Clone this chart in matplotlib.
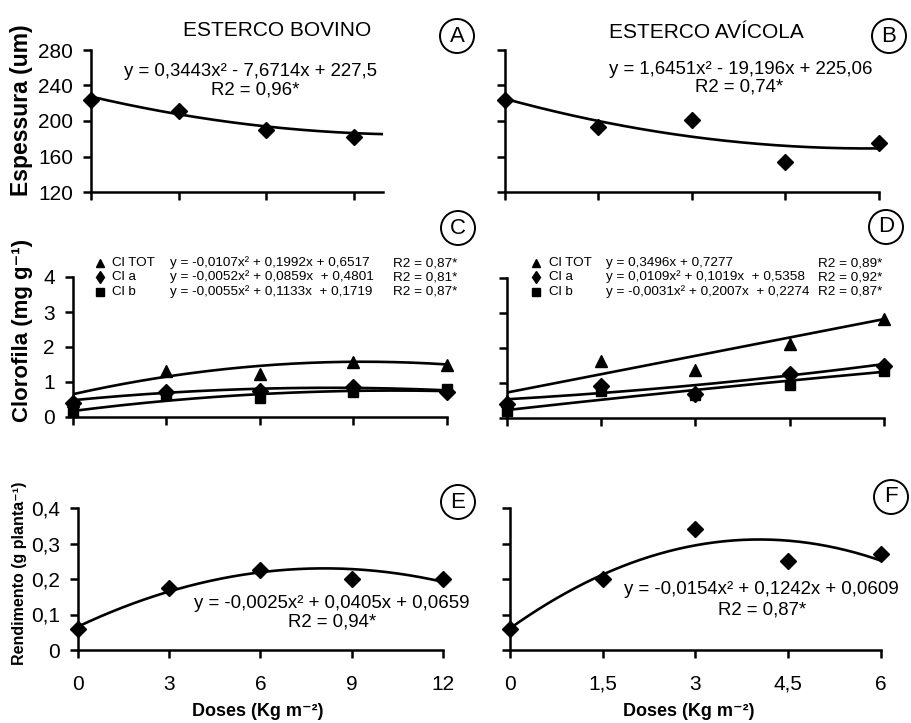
import numpy as np
import matplotlib
matplotlib.use('Agg')
import matplotlib.pyplot as plt
from matplotlib.lines import Line2D
from matplotlib.patches import Ellipse

# dose levels
doses_bov = [0, 3, 6, 9, 12]
doses_avi = [0, 1.5, 3, 4.5, 6]

# Espessura (um)
esp_bov = [224, 211, 190, 182]
esp_avi = [224, 193, 201, 154, 175]
esp_bov_coef = [0.3443, -7.6714, 227.5]
esp_avi_coef = [1.6451, -19.196, 225.06]

# Clorofila (mg g-1)
cl_tot_bov = [0.45, 1.3, 1.22, 1.57, 1.49]
cl_a_bov = [0.4, 0.7, 0.75, 0.86, 0.72]
cl_b_bov = [0.15, 0.63, 0.55, 0.7, 0.79]
cl_tot_avi = [0.5, 1.63, 1.37, 2.11, 2.83]
cl_a_avi = [0.4, 0.91, 0.7, 1.25, 1.48]
cl_b_avi = [0.2, 0.78, 0.66, 0.94, 1.33]
cl_bov_coef = {'tot': [-0.0107, 0.1992, 0.6517], 'a': [-0.0052, 0.0859, 0.4801], 'b': [-0.0055, 0.1133, 0.1719]}
cl_avi_coef = {'tot': [0.0, 0.3496, 0.7277], 'a': [0.0109, 0.1019, 0.5358], 'b': [-0.0031, 0.2007, 0.2274]}

# Rendimento (g planta-1)
rend_bov = [0.06, 0.175, 0.225, 0.2, 0.2]
rend_avi = [0.06, 0.2, 0.34, 0.25, 0.27]
rend_bov_coef = [-0.0025, 0.0405, 0.0659]
rend_avi_coef = [-0.0154, 0.1242, 0.0609]

W, H = 912, 723
FONT = ['Liberation Sans', 'DejaVu Sans']
plt.rcParams['font.family'] = FONT


def box(x0, x1, y0, y1):
    # pixel box -> figure fraction
    return [x0 / W, 1 - y1 / H, (x1 - x0) / W, (y1 - y0) / H]


def style(ax, xlim, xticks, ylim, yticks, ylabels=None, xlabels=False):
    ax.set_xlim(*xlim)
    ax.set_ylim(*ylim)
    for s in ['top', 'right']:
        ax.spines[s].set_visible(False)
    for s in ['left', 'bottom']:
        ax.spines[s].set_linewidth(1.8)
    ax.set_xticks(xticks)
    ax.set_yticks(yticks)
    ax.tick_params(axis='both', direction='out', length=6, width=1.8, labelsize=15)
    ax.tick_params(axis='y', pad=7)
    ax.tick_params(axis='x', pad=12)
    if ylabels is not None:
        ax.set_yticklabels(ylabels)
    else:
        ax.set_yticklabels([])
    if xlabels:
        ax.set_xticklabels([str(v).replace('.', ',') for v in xticks])
    else:
        ax.set_xticklabels([])


def curve(ax, coef, x0, x1):
    xs = np.linspace(x0, x1, 200)
    ax.plot(xs, np.polyval(coef, xs), color='black', lw=1.9, zorder=2)


def pts(ax, x, y, marker, ms):
    ax.plot(x, y, linestyle='none', marker=marker, ms=ms, color='black',
            clip_on=False, zorder=3)


def circ(letter, cx, cy):
    fig.add_artist(Ellipse((cx / W, 1 - cy / H), 34 / W, 34 / H, transform=fig.transFigure,
                           fill=False, ec='black', lw=1.4))
    fig.text(cx / W, 1 - cy / H, letter, ha='center', va='center', fontsize=16)


def ftext(x, y, s, **kw):
    return fig.text(x / W, 1 - y / H, s, **kw)


fig = plt.figure(figsize=(9.12, 7.23), dpi=100)

# --- A ---
axA = fig.add_axes(box(91, 383, 50, 192))
curve(axA, esp_bov_coef, 0, 10)
pts(axA, doses_bov[:4], esp_bov, 'D', 8.5)
style(axA, (0, 10), [0, 3, 6, 9], (120, 280), [120, 160, 200, 240, 280],
      ylabels=['120', '160', '200', '240', '280'])

# --- B ---
axB = fig.add_axes(box(505, 879, 50, 192))
curve(axB, esp_avi_coef, 0, 6)
pts(axB, doses_avi, esp_avi, 'D', 8.5)
style(axB, (0, 6), doses_avi, (120, 280), [120, 160, 200, 240, 280])

# --- C ---
axC = fig.add_axes(box(73, 447, 277, 417))
for k in ['tot', 'a', 'b']:
    curve(axC, cl_bov_coef[k], 0, 12)
pts(axC, doses_bov, cl_tot_bov, '^', 9)
pts(axC, doses_bov, cl_a_bov, 'D', 8)
pts(axC, doses_bov, cl_b_bov, 's', 7.5)
style(axC, (0, 12), doses_bov, (0, 4), [0, 1, 2, 3, 4],
      ylabels=['0', '1', '2', '3', '4'])

# --- D ---
axD = fig.add_axes(box(507, 884, 278, 418))
for k in ['tot', 'a', 'b']:
    curve(axD, cl_avi_coef[k], 0, 6)
pts(axD, doses_avi, cl_tot_avi, '^', 9)
pts(axD, doses_avi, cl_a_avi, 'D', 8)
pts(axD, doses_avi, cl_b_avi, 's', 7.5)
style(axD, (0, 6), doses_avi, (0, 4), [0, 1, 2, 3, 4])

# --- E ---
axE = fig.add_axes(box(78, 443, 508, 650))
curve(axE, rend_bov_coef, 0, 12)
pts(axE, doses_bov, rend_bov, 'D', 8.5)
style(axE, (0, 12), doses_bov, (0, 0.4), [0, 0.1, 0.2, 0.3, 0.4],
      ylabels=['0', '0,1', '0,2', '0,3', '0,4'], xlabels=True)

# --- F ---
axF = fig.add_axes(box(510, 881, 508, 650))
curve(axF, rend_avi_coef, 0, 6)
pts(axF, doses_avi, rend_avi, 'D', 8.5)
style(axF, (0, 6), doses_avi, (0, 0.4), [0, 0.1, 0.2, 0.3, 0.4], xlabels=True)

# titles (reference uses a condensed face)
ftext(277, 31, 'ESTERCO BOVINO', ha='center', va='center', fontsize=15)
ftext(706, 33, 'ESTERCO AVÍCOLA', ha='center', va='center', fontsize=15)

# circled letters
circ('A', 457, 36)
circ('B', 889, 36)
circ('C', 458, 228)
circ('D', 886, 227)
circ('E', 458, 502)
circ('F', 891, 497)

# y labels
ftext(22, 110, 'Espessura (um)', rotation=90, ha='center', va='center',
      fontsize=16.5, fontweight='bold')
ftext(23, 330, 'Clorofila (mg g⁻¹)', rotation=90, ha='center', va='center',
      fontsize=16, fontweight='bold')
ftext(20, 573, 'Rendimento (g planta⁻¹)', rotation=90, ha='center', va='center',
      fontsize=11.5, fontweight='bold')

# x labels
ftext(258, 712, 'Doses (Kg m⁻²)', ha='center', va='center', fontsize=13, fontweight='bold')
ftext(689, 712, 'Doses (Kg m⁻²)', ha='center', va='center', fontsize=13, fontweight='bold')

# equations A, B, E, F
eq_kw = dict(ha='center', va='center', fontsize=13.4)
ftext(250, 72, 'y = 0,3443x² - 7,6714x + 227,5', **eq_kw)
ftext(255, 90, 'R2 = 0,96*', **eq_kw)
ftext(741, 69, 'y = 1,6451x² - 19,196x + 225,06', **eq_kw)
ftext(739, 87, 'R2 = 0,74*', **eq_kw)
ftext(332, 603, 'y = -0,0025x² + 0,0405x + 0,0659', **eq_kw)
ftext(332, 622, 'R2 = 0,94*', **eq_kw)
ftext(761, 590, 'y = -0,0154x² + 0,1242x + 0,0609', **eq_kw)
ftext(762, 610, 'R2 = 0,87*', **eq_kw)

# legends C, D
leg_markers = [('^', 6), ('d', 6.5), ('s', 5.5)]
leg_names = ['Cl TOT', 'Cl a', 'Cl b']
leg_rows = [263, 277, 292]
eq_C = ['y = -0,0107x² + 0,1992x + 0,6517', 'y = -0,0052x² + 0,0859x  + 0,4801',
        'y = -0,0055x² + 0,1133x  + 0,1719']
r2_C = ['R2 = 0,87*', 'R2 = 0,81*', 'R2 = 0,87*']
eq_D = ['y = 0,3496x + 0,7277', 'y = 0,0109x² + 0,1019x  + 0,5358',
        'y = -0,0031x² + 0,2007x  + 0,2274']
r2_D = ['R2 = 0,89*', 'R2 = 0,92*', 'R2 = 0,87*']
eqx_D = [606, 606, 606]
lk = dict(ha='left', va='center', fontsize=9.7)
for i in range(3):
    y = leg_rows[i]
    m, ms = leg_markers[i]
    for mx in (100, 536):
        fig.add_artist(Line2D([mx / W], [1 - y / H], marker=m, ms=ms, color='black',
                              linestyle='none', transform=fig.transFigure))
    ftext(112, y, leg_names[i], **lk)
    ftext(170, y, eq_C[i], **lk)
    ftext(393, y, r2_C[i], **lk)
    ftext(549, y, leg_names[i], **lk)
    ftext(eqx_D[i], y, eq_D[i], **lk)
    ftext(818, y, r2_D[i], **lk)

fig.savefig('out.png', dpi=100)
